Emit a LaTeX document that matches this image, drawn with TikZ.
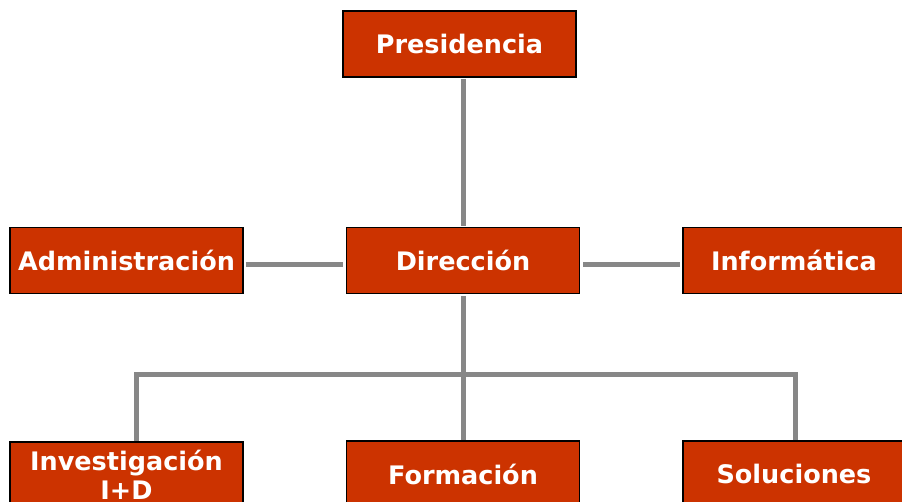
\documentclass[tikz,border=0pt]{standalone}
\usepackage{fontspec}
\setmainfont{DejaVu Sans}
\definecolor{rojo}{HTML}{CC3300}
\definecolor{gris}{HTML}{878787}
\tikzset{
  unidad/.style={draw=black, line width=1.6pt, fill=rojo, text=white,
    font=\fontsize{25.5}{29.5}\selectfont\bfseries, align=center,
    minimum width=233pt, minimum height=66pt, inner sep=0pt},
  derecha/.style={unidad, minimum width=222pt},
  enlace/.style={draw=gris, line width=5pt}
}
\begin{document}
\begin{tikzpicture}[x=1pt,y=-1pt]
    \useasboundingbox (0,0) rectangle (902,502);
    \clip (0,0) rectangle (902,502);
    %% top
    \node[unidad] (pres) at (459.5,44) {Presidencia};
    %% middle row
    \node[unidad] (admin) at (126.5,260.5) {Administración};
    \node[unidad] (dir) at (463,260.5) {Dirección};
    \node[derecha] (info) at (794,260.5) {Informática};
    %% bottom row
    \node[unidad] (inv) at (126.5,475) {Investigación\\I+D};
    \node[unidad] (form) at (463,474) {Formación};
    \node[derecha] (sol) at (794,474) {Soluciones};
    %% bus corners
    \coordinate (busL) at (136.5,375);
    \coordinate (busR) at (795,375);
    %% links
    \draw[enlace, shorten <=1pt, shorten >=1pt] (pres.south -| dir.north) -- (dir.north);
    \draw[enlace, shorten <=2pt, shorten >=3pt] ([yshift=-4.5pt]admin.east) -- ([yshift=-4.5pt]dir.west);
    \draw[enlace, shorten <=3pt, shorten >=2pt] ([yshift=-4pt]dir.east) -- ([yshift=-4pt]info.west);
    \draw[enlace, shorten <=2pt] (dir.south) -- (form.north);
    \draw[enlace] (busL |- inv.north) -- (busL) -- (busR) -- (busR |- sol.north);
\end{tikzpicture}
\end{document}
